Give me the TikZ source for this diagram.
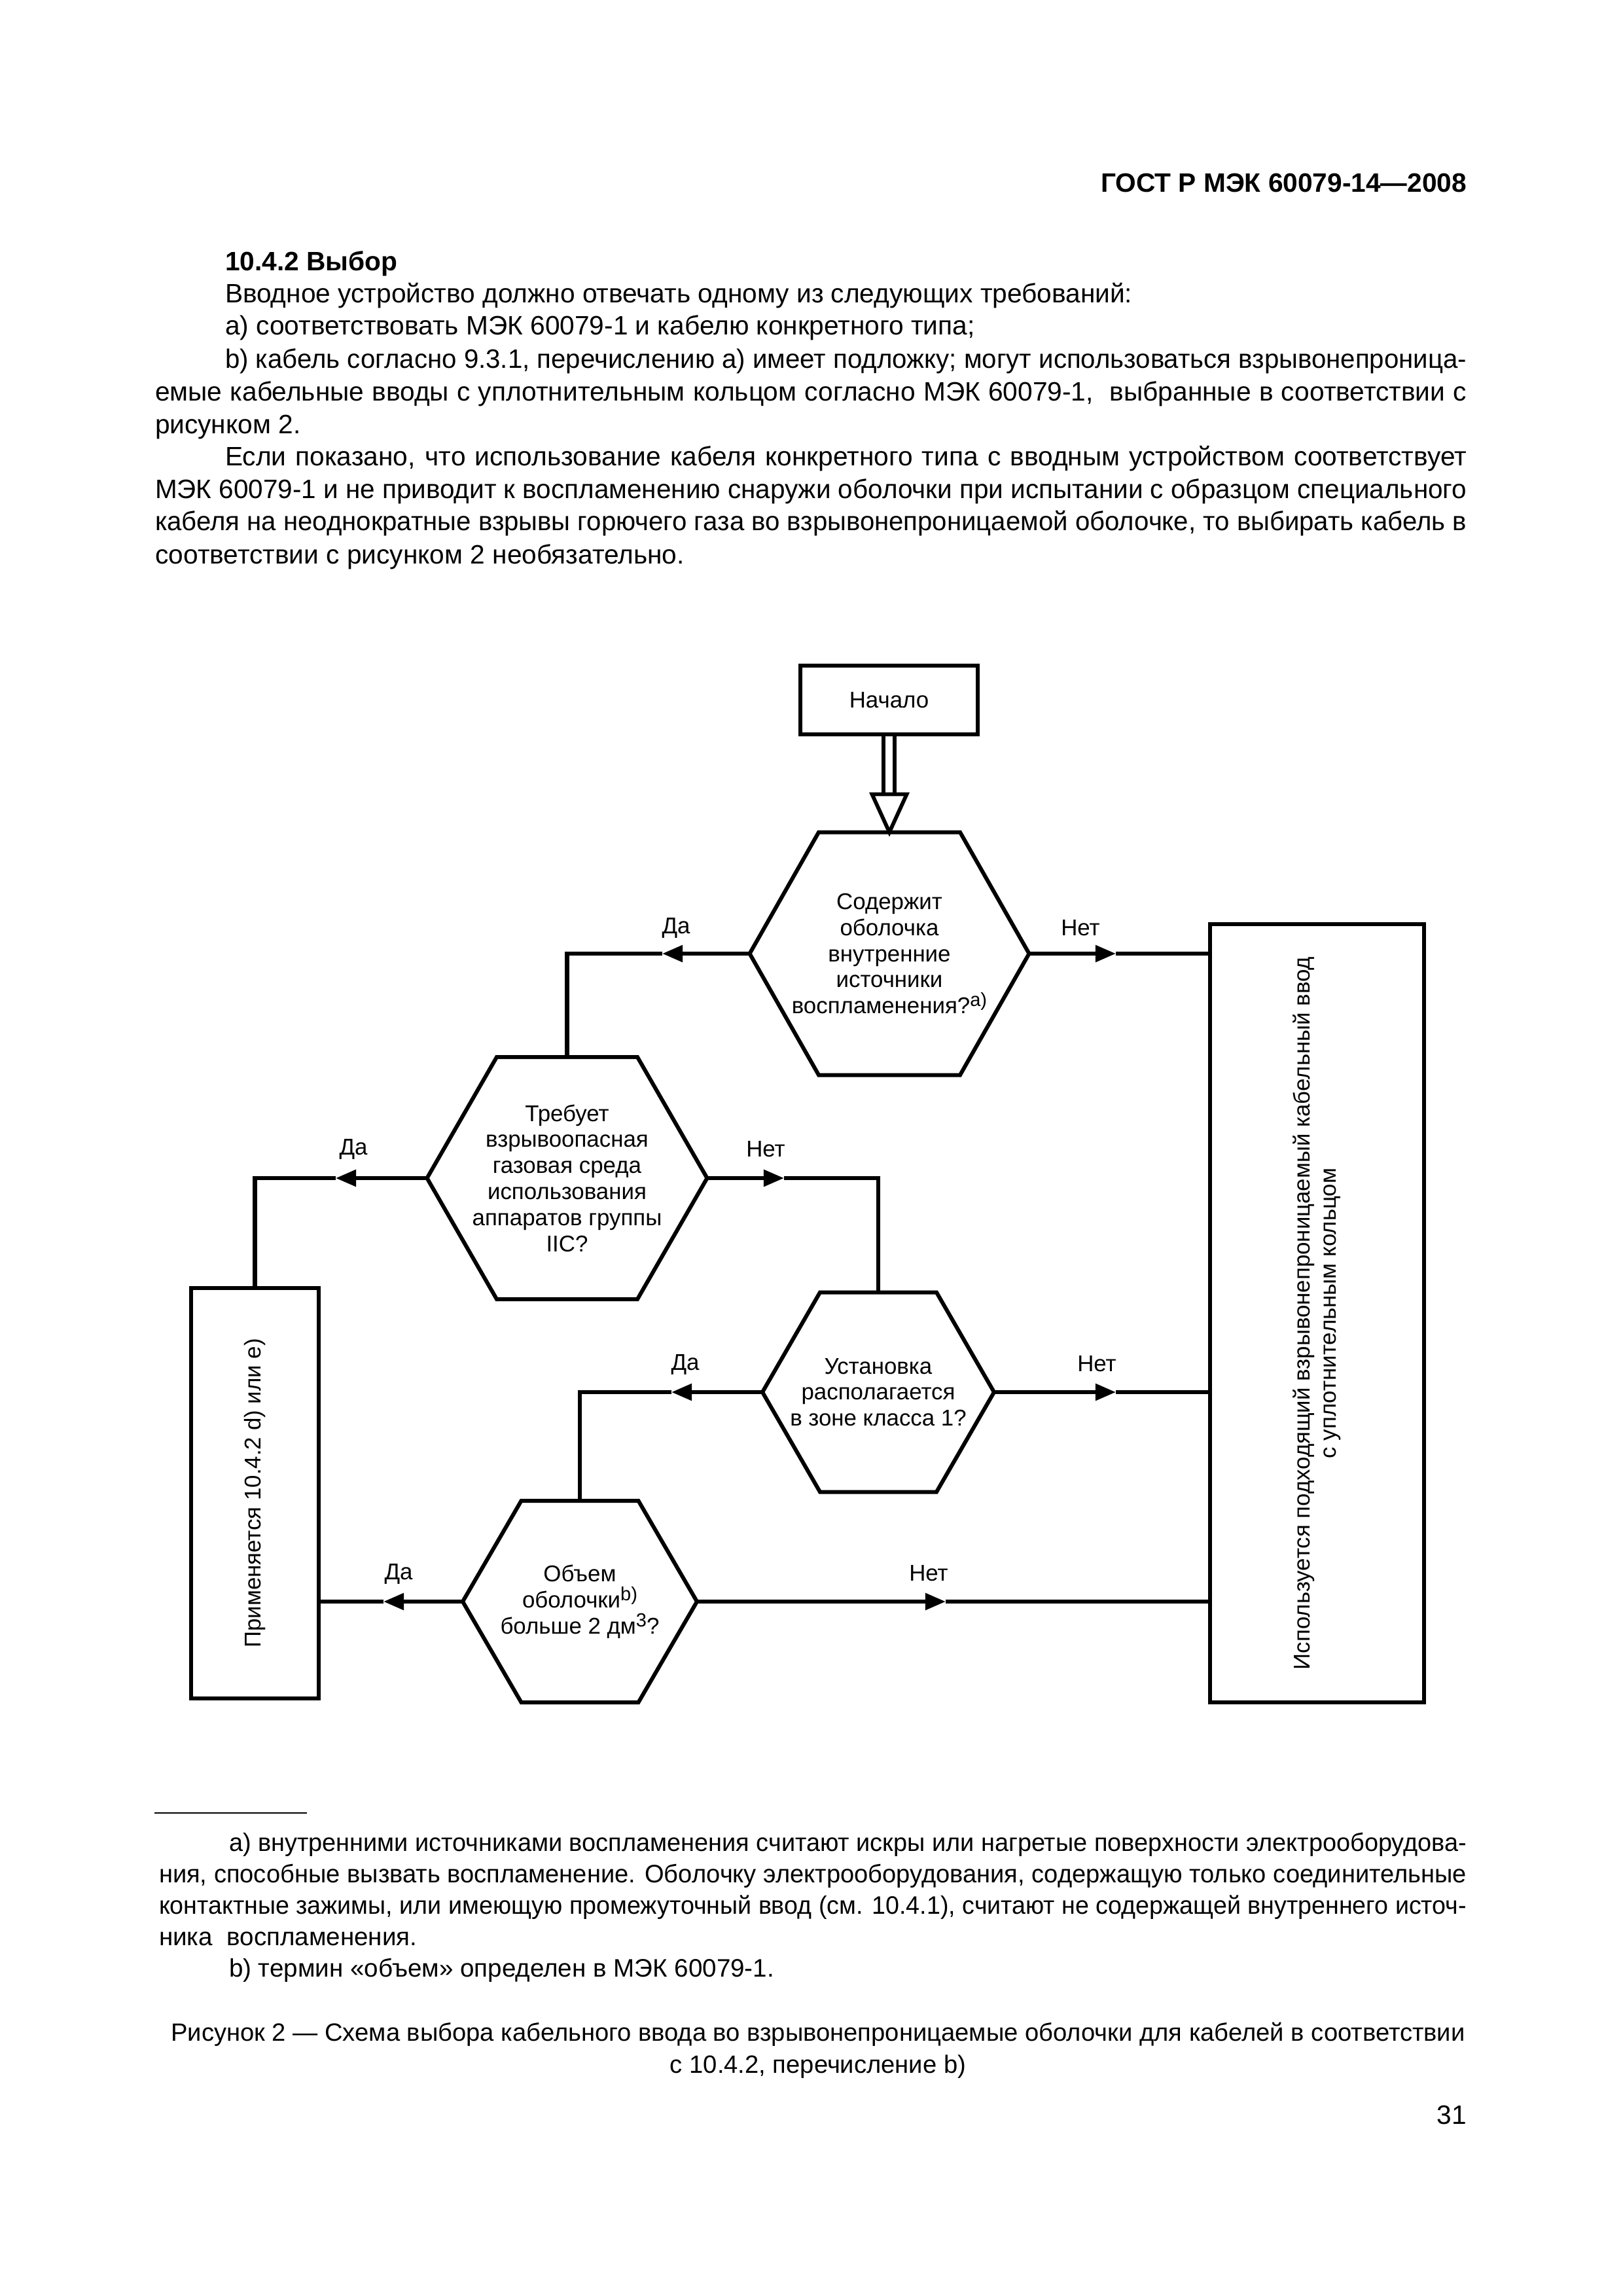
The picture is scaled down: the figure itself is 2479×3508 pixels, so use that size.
\documentclass[tikz,border=0pt]{standalone}
\usepackage{fontspec}
\setmainfont{Liberation Sans}
\usepackage{graphicx}
\usetikzlibrary{arrows.meta,calc}
\newlength\pxu \setlength\pxu{0.084711mm}
\newlength\wbi \setlength\wbi{1897\pxu}
\newlength\wbf \setlength\wbf{2004\pxu}
\newlength\wfi \setlength\wfi{1891\pxu}
\newlength\wff \setlength\wff{1998\pxu}
\newsavebox\jbox
\newcommand\jline[2]{\sbox\jbox{#2}\ifdim\wd\jbox>#1\relax\resizebox{#1}{\height}{\usebox\jbox}\else\hbox to #1{#2}\fi}
\newcommand\supx[1]{\raisebox{0.6ex}{\fontsize{7}{7}\selectfont #1}}
\tikzset{
  every node/.style={inner sep=0pt, outer sep=0pt},
  hdr/.style={font=\fontsize{9.8}{12}\selectfont\bfseries, anchor=base east},
  body/.style={font=\fontsize{9.8}{12}\selectfont, anchor=base west},
  foot/.style={font=\fontsize{9.3}{12}\selectfont, anchor=base west},
  capt/.style={font=\fontsize{9.2}{12}\selectfont, anchor=base},
  dtext/.style={font=\fontsize{8.4}{9.6}\selectfont, align=center},
  lbl/.style={font=\fontsize{8.4}{9.6}\selectfont},
  fl/.style={line width=1.45pt, line join=miter},
  tip/.style={-{Triangle[length=7.5pt,width=6pt]}},
  boxst/.style={draw, line width=1.45pt},
}
\newcommand\hexa[7]{% name, cx, cy, halftop, halfwidth, halfheight, text
  \node[dtext, minimum width=2*#5*\pxu, minimum height=2*#6*\pxu] (#1) at (#2,#3) {#7};
  \draw[fl] ($(#1.north)+(-#4,0)$) -- ($(#1.north)+(#4,0)$) -- (#1.east) -- ($(#1.south)+(#4,0)$) -- ($(#1.south)+(-#4,0)$) -- (#1.west) -- cycle;
}
\begin{document}
\begin{tikzpicture}[x=0.084711mm, y=-0.084711mm]
\useasboundingbox (0,0) rectangle (2479,3508);
% header and body text
\node[hdr] (hdr) at (2241,293) {ГОСТ Р МЭК 60079-14—2008};
\node[body] (b1) at (344,413) {\bfseries 10.4.2 Выбор};
\node[body] (b2) at (344,462) {Вводное устройство должно отвечать одному из следующих требований:};
\node[body] (b3) at (344,511) {a) соответствовать МЭК 60079-1 и кабелю конкретного типа;};
\node[body] (b4) at (344,562) {\jline{\wbi}{b) кабель согласно 9.3.1, перечислению a) имеет подложку; могут использоваться взрывонепроница-}};
\node[body] (b5) at (237,612) {\jline{\wbf}{емые кабельные вводы с уплотнительным кольцом согласно МЭК 60079-1, \ выбранные в соответствии с}};
\node[body] (b6) at (237,662) {рисунком 2.};
\node[body] (b7) at (344,711) {\jline{\wbi}{Если показано, что использование кабеля конкретного типа с вводным устройством соответствует}};
\node[body] (b8) at (237,761) {\jline{\wbf}{МЭК 60079-1 и не приводит к воспламенению снаружи оболочки при испытании с образцом специального}};
\node[body] (b9) at (237,810) {\jline{\wbf}{кабеля на неоднократные взрывы горючего газа во взрывонепроницаемой оболочке, то выбирать кабель в}};
\node[body] (b10) at (237,861) {соответствии с рисунком 2 необязательно.};
% flowchart
\node[boxst, lbl, minimum width=271*\pxu, minimum height=105*\pxu] (start) at (1358.5,1069.5) {Начало};
\hexa{h1}{1359}{1457}{108}{213.5}{185.5}{Содержит\\оболочка\\внутренние\\источники\\воспламенения?\supx{a)}}
\hexa{h2}{866.5}{1800}{107.5}{214}{185}{Требует\\взрывоопасная\\газовая среда\\использования\\аппаратов группы\\IIC?}
\hexa{h3}{1342}{2127}{89}{177}{152.5}{Установка\\располагается\\в зоне класса 1?}
\hexa{h4}{886}{2447}{89.5}{179}{154}{Объем\\оболочки\supx{b)}\\больше 2 дм\supx{3}?}
\node[boxst, minimum width=327*\pxu, minimum height=1189*\pxu] (rbox) at (2012.5,2006.5) {};
\node[dtext, rotate=90] (rtxt) at (rbox.center) {Используется подходящий взрывонепроницаемый кабельный ввод\\с уплотнительным кольцом};
\node[boxst, minimum width=195*\pxu, minimum height=627*\pxu] (lbox) at (389.5,2281.5) {};
\node[lbl, rotate=90] (ltxt) at (lbox.center) {Применяется 10.4.2 d) или e)};
% start double arrow
\coordinate (dl1) at ($(start.south)+(-8.5,0)$);
\coordinate (dl2) at ($(start.south)+(8.5,0)$);
\coordinate (tb) at ($(h1.north)+(0,-58)$);
\draw[line width=1.4pt] (dl1) -- (dl1 |- tb);
\draw[line width=1.4pt] (dl2) -- (dl2 |- tb);
\draw[line width=1.4pt, line join=miter, fill=white] ($(tb)+(-26.5,0)$) -- ($(tb)+(26.5,0)$) -- (h1.north) -- cycle;
% connectors
\coordinate (d1) at (1012,1457);
\draw[fl,tip] (h1.west) -- (d1);
\draw[fl] (d1) -- (d1 -| h2.north) -- (h2.north);
\coordinate (n1) at (1705,1457);
\draw[fl,tip] (h1.east) -- (n1);
\draw[fl] (n1) -- (n1 -| rbox.west);
\coordinate (d2) at (513,1800);
\draw[fl,tip] (h2.west) -- (d2);
\draw[fl] (d2) -- (d2 -| lbox.north) -- (lbox.north);
\coordinate (n2) at (1198,1800);
\draw[fl,tip] (h2.east) -- (n2);
\draw[fl] (n2) -- (n2 -| h3.north) -- (h3.north);
\coordinate (d3) at (1026,2127);
\draw[fl,tip] (h3.west) -- (d3);
\draw[fl] (d3) -- (d3 -| h4.north) -- (h4.north);
\coordinate (n3) at (1705,2127);
\draw[fl,tip] (h3.east) -- (n3);
\draw[fl] (n3) -- (n3 -| rbox.west);
\coordinate (d4) at (586,2447);
\draw[fl,tip] (h4.west) -- (d4);
\draw[fl] (d4) -- (d4 -| lbox.east);
\coordinate (n4) at (1445,2447);
\draw[fl,tip] (h4.east) -- (n4);
\draw[fl] (n4) -- (n4 -| rbox.west);
% labels
\node[lbl] (ld1) at (1033,1418) {Да};
\node[lbl] (ln1) at (1651,1418) {Нет};
\node[lbl] (ld2) at (540,1756) {Да};
\node[lbl] (ln2) at (1170,1756) {Нет};
\node[lbl] (ld3) at (1047,2085) {Да};
\node[lbl] (ln3) at (1676,2084) {Нет};
\node[lbl] (ld4) at (609,2405) {Да};
\node[lbl] (ln4) at (1419,2404) {Нет};
% footnotes
\coordinate (fr1) at (236,2770);
\coordinate (fr2) at (469,2770);
\draw[line width=0.6pt] (fr1) -- (fr2);
\node[foot] (f1) at (350,2828) {\jline{\wfi}{a) внутренними источниками воспламенения считают искры или нагретые поверхности электрооборудова-}};
\node[foot] (f2) at (243,2876) {\jline{\wff}{ния, способные вызвать воспламенение. Оболочку электрооборудования, содержащую только соединительные}};
\node[foot] (f3) at (243,2924) {\jline{\wff}{контактные зажимы, или имеющую промежуточный ввод (см. 10.4.1), считают не содержащей внутреннего источ-}};
\node[foot] (f4) at (243,2972) {ника \ воспламенения.};
\node[foot] (f5) at (350,3020) {b) термин «объем» определен в МЭК 60079-1.};
% caption
\node[capt] (c1) at (1250,3118) {Рисунок 2 — Схема выбора кабельного ввода во взрывонепроницаемые оболочки для кабелей в соответствии};
\node[capt] (c2) at (1250,3167) {с 10.4.2, перечисление b)};
\node[hdr, font=\fontsize{9.8}{12}\selectfont] (pg) at (2241,3245) {31};
\end{tikzpicture}
\end{document}
